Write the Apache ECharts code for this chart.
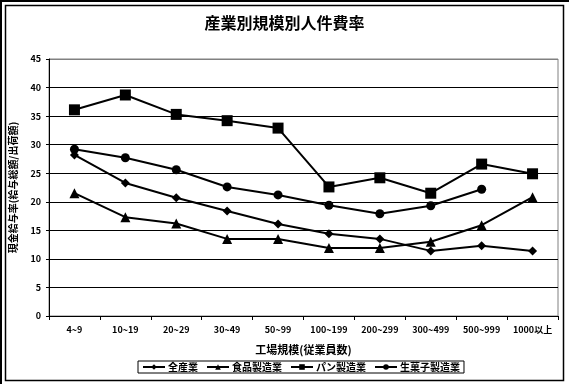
<!DOCTYPE html>
<html><head><meta charset="utf-8">
<script src="https://cdn.jsdelivr.net/npm/echarts@6/dist/echarts.min.js"></script>
<style>html,body{margin:0;padding:0;background:#fff}#c{width:569px;height:384px}</style>
</head><body><div id="c"></div>
<script>
const categories = ['4~9','10~19','20~29','30~49','50~99','100~199','200~299','300~499','500~999','1000以上'];
const allIndustry = [28.2, 23.3, 20.7, 18.4, 16.1, 14.4, 13.5, 11.4, 12.3, 11.4];
const foodMfg = [21.5, 17.3, 16.2, 13.5, 13.5, 11.9, 11.9, 13.0, 15.9, 20.8];
const breadMfg = [36.1, 38.7, 35.3, 34.2, 32.9, 22.6, 24.2, 21.5, 26.6, 24.9];
const confectMfg = [29.2, 27.7, 25.6, 22.6, 21.2, 19.4, 17.9, 19.3, 22.2, null];
const seriesNames = ['全産業','食品製造業','パン製造業','生菓子製造業'];
const yTicks = {min:0, max:45, interval:5};

const font = '"Noto Sans CJK JP", "DejaVu Sans", sans-serif';
const chart = echarts.init(document.getElementById('c'));
function mk(name, data, symbol, size){
  return {name, type:'line', data, symbol, symbolSize:size, showAllSymbol:true,
    lineStyle:{color:'#000', width:2}, itemStyle:{color:'#000'}, connectNulls:false, animation:false};
}
chart.setOption({
  animation:false,
  backgroundColor:'#fff',
  title:{text:'産業別規模別人件費率', left:'center', top:10,
    textStyle:{fontFamily:font, fontSize:16, fontWeight:'bold', color:'#000'}},
  legend:{left:138, top:361, itemWidth:22, itemHeight:7, itemGap:8,
    borderColor:'#000', borderWidth:1, borderRadius:0, padding:[1,4],
    textStyle:{fontFamily:font, fontSize:10, fontWeight:'bold', color:'#000', padding:[0,0,0,-2]}},
  grid:{left:48, right:11, top:59, bottom:68, show:true, borderColor:'#808080', borderWidth:1},
  xAxis:{type:'category', data:categories, boundaryGap:true,
    name:'工場規模(従業員数)', nameLocation:'middle', nameGap:28,
    nameTextStyle:{fontFamily:font, fontSize:11, fontWeight:'bold', color:'#000'},
    axisLine:{lineStyle:{color:'#000', width:1}},
    axisTick:{show:true, length:4, lineStyle:{color:'#000'}},
    axisLabel:{fontFamily:font, fontSize:9, fontWeight:'bold', color:'#000', margin:9, interval:0},
    splitLine:{show:false}},
  yAxis:{type:'value', min:yTicks.min, max:yTicks.max, interval:yTicks.interval,
    name:'現金給与率(給与総額/出荷額)', nameLocation:'middle', nameGap:31,
    nameTextStyle:{fontFamily:font, fontSize:10, fontWeight:'bold', color:'#000'},
    axisLine:{show:true, lineStyle:{color:'#000', width:1}},
    axisTick:{show:true, length:3, lineStyle:{color:'#000'}},
    axisLabel:{fontFamily:font, fontSize:9, fontWeight:'bold', color:'#000', margin:8},
    splitLine:{show:true, lineStyle:{color:['#000','#000','#000','#000','#000','#000','#000','#000','#000','#808080'], width:1}}},
  series:[
    mk(seriesNames[0], allIndustry, 'diamond', 9),
    mk(seriesNames[1], foodMfg, 'triangle', 10),
    mk(seriesNames[2], breadMfg, 'rect', 11),
    mk(seriesNames[3], confectMfg, 'circle', 9)
  ],
  graphic:[
    {type:'rect', shape:{x:5.5, y:5.5, width:558, height:375}, style:{fill:'none', stroke:'#000', lineWidth:1.5}, silent:true},
    {type:'line', shape:{x1:1, y1:0, x2:1, y2:384}, style:{stroke:'#000', lineWidth:2}, silent:true},
    {type:'line', shape:{x1:0, y1:1, x2:569, y2:1}, style:{stroke:'#000', lineWidth:2}, silent:true}
  ]
});
</script></body></html>
